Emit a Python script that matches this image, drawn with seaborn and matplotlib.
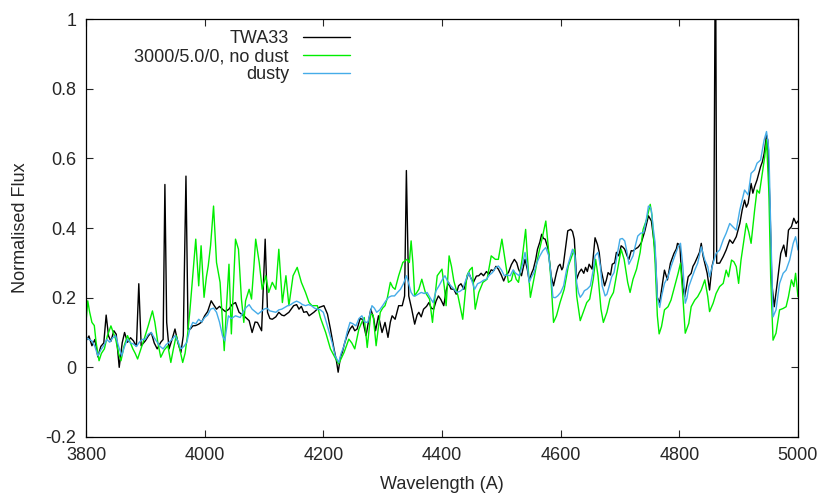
import matplotlib
matplotlib.use("Agg")
import matplotlib.pyplot as plt
import seaborn as sns
import pandas as pd

# observed spectrum (TWA33)
twa_wave = [3800, 3805, 3810, 3815, 3820, 3825, 3830, 3834, 3838, 3842, 3847, 3851, 3856, 3861, 3865,
            3870, 3875, 3880, 3885, 3889, 3893, 3897, 3900, 3905, 3910, 3915, 3920, 3926, 3930, 3933,
            3936, 3940, 3945, 3950, 3955, 3960, 3964, 3968.5, 3972, 3976, 3980, 3985, 3990, 3995, 4000,
            4005, 4011, 4015, 4020, 4025, 4030, 4035, 4041, 4046, 4052, 4058, 4066, 4075, 4080, 4085,
            4089, 4096, 4102, 4106, 4110, 4114, 4120, 4125, 4130, 4134, 4142, 4150, 4155, 4159, 4163,
            4167, 4172, 4176, 4184, 4193, 4201, 4207, 4212, 4218, 4222, 4225, 4229, 4232, 4236, 4240,
            4245, 4249, 4253, 4257, 4262, 4266, 4272, 4276, 4280, 4285, 4288, 4293, 4299, 4304, 4309,
            4313, 4316, 4321, 4327, 4333, 4337, 4340, 4344, 4349, 4354, 4358, 4361, 4365, 4369, 4374,
            4378, 4382, 4386, 4390, 4394, 4398, 4403, 4407, 4411, 4415, 4420, 4424, 4428, 4432, 4437,
            4441, 4445, 4449, 4453, 4458, 4462, 4466, 4470, 4475, 4479, 4483, 4487, 4491, 4495, 4500,
            4504, 4508, 4512, 4517, 4522, 4526, 4529, 4534, 4540, 4544, 4547, 4551, 4554, 4558, 4561,
            4565, 4568, 4571, 4574, 4579, 4584, 4588, 4593, 4596, 4599, 4602, 4604, 4608, 4612, 4617,
            4620, 4623, 4627, 4631, 4635, 4639, 4642, 4645, 4648, 4653, 4658, 4662, 4665, 4668, 4674,
            4677, 4680, 4684, 4687, 4691, 4694, 4698, 4702, 4705, 4708, 4712, 4715, 4719, 4722, 4726,
            4730, 4733, 4736, 4742, 4748, 4753, 4756, 4759, 4763, 4767, 4770, 4775, 4780, 4785, 4791,
            4795, 4797, 4801, 4803, 4806, 4809, 4812, 4815, 4820, 4823, 4826, 4831, 4834, 4837, 4840,
            4843, 4847, 4851, 4855, 4858, 4861, 4863, 4868, 4874, 4879, 4885, 4890, 4896, 4902,
            4906, 4910, 4913, 4916, 4921, 4924, 4927, 4931, 4937, 4940, 4943, 4947, 4949, 4953, 4956,
            4960, 4965, 4971, 4976, 4980, 4984, 4989, 4993, 4997, 5000]
twa_flux = [0.076, 0.090, 0.062, 0.080, 0.030, 0.060, 0.070, 0.150, 0.090, 0.075, 0.105, 0.095, 0.000, 0.070, 0.100,
            0.072, 0.085, 0.076, 0.060, 0.240, 0.062, 0.070, 0.076, 0.090, 0.100, 0.070, 0.053, 0.072, 0.080, 0.525,
            0.129, 0.053, 0.080, 0.110, 0.070, 0.043, 0.091, 0.549, 0.110, 0.110, 0.119, 0.120, 0.124, 0.130, 0.148,
            0.160, 0.191, 0.180, 0.167, 0.175, 0.167, 0.160, 0.167, 0.180, 0.186, 0.158, 0.148, 0.134, 0.100, 0.130,
            0.129, 0.105, 0.368, 0.158, 0.140, 0.138, 0.145, 0.158, 0.150, 0.148, 0.158, 0.177, 0.180, 0.167, 0.175,
            0.158, 0.160, 0.148, 0.158, 0.172, 0.177, 0.153, 0.110, 0.053, 0.020, -0.014, 0.030, 0.043, 0.070, 0.091,
            0.110, 0.119, 0.105, 0.110, 0.140, 0.138, 0.091, 0.130, 0.167, 0.140, 0.105, 0.148, 0.100, 0.129, 0.086,
            0.130, 0.148, 0.138, 0.177, 0.177, 0.205, 0.565, 0.205, 0.167, 0.124, 0.150, 0.158, 0.145, 0.167, 0.175,
            0.186, 0.170, 0.167, 0.190, 0.205, 0.195, 0.177, 0.220, 0.244, 0.225, 0.224, 0.210, 0.234, 0.240, 0.224,
            0.250, 0.272, 0.255, 0.244, 0.262, 0.263, 0.270, 0.263, 0.275, 0.267, 0.280, 0.277, 0.290, 0.282, 0.265,
            0.248, 0.265, 0.272, 0.295, 0.310, 0.300, 0.282, 0.263, 0.310, 0.280, 0.248, 0.270, 0.282, 0.310, 0.339,
            0.360, 0.382, 0.370, 0.368, 0.339, 0.263, 0.234, 0.272, 0.290, 0.296, 0.280, 0.287, 0.339, 0.392, 0.396,
            0.390, 0.368, 0.253, 0.272, 0.282, 0.270, 0.287, 0.275, 0.296, 0.282, 0.372, 0.353, 0.330, 0.282, 0.234,
            0.250, 0.272, 0.265, 0.296, 0.300, 0.330, 0.320, 0.349, 0.345, 0.339, 0.320, 0.310, 0.335, 0.334, 0.340,
            0.344, 0.350, 0.358, 0.392, 0.435, 0.420, 0.380, 0.339, 0.200, 0.186, 0.222, 0.279, 0.251, 0.299, 0.327,
            0.340, 0.356, 0.351, 0.289, 0.230, 0.203, 0.230, 0.260, 0.270, 0.290, 0.299, 0.318, 0.330, 0.356, 0.320,
            0.299, 0.270, 0.222, 0.289, 0.310, 1.300, 0.299, 0.299, 0.318, 0.337, 0.366, 0.356, 0.375, 0.413,
            0.452, 0.480, 0.460, 0.471, 0.528, 0.500, 0.519, 0.538, 0.576, 0.590, 0.614, 0.667, 0.653, 0.452, 0.241,
            0.174, 0.241, 0.327, 0.351, 0.318, 0.394, 0.404, 0.428, 0.413, 0.420]

# model 3000/5.0/0 without dust
nodust_wave = [3800, 3803, 3806, 3810, 3814, 3817, 3822, 3826, 3831, 3836, 3842, 3846, 3850, 3855, 3859,
               3864, 3870, 3875, 3879, 3883, 3887, 3892, 3898, 3905, 3912, 3916, 3921, 3926, 3932, 3938,
               3943, 3947, 3952, 3957, 3963, 3967, 3971, 3975, 3979, 3985, 3990, 3994, 3999, 4003, 4006,
               4010, 4015, 4020, 4026, 4030, 4033, 4037, 4041, 4045, 4049, 4052, 4057, 4062, 4066, 4069,
               4075, 4079, 4083, 4086, 4092, 4097, 4103, 4108, 4114, 4120, 4125, 4131, 4137, 4142, 4149,
               4156, 4163, 4170, 4176, 4181, 4190, 4195, 4204, 4212, 4221, 4226, 4235, 4243, 4248, 4253,
               4260, 4265, 4269, 4274, 4280, 4284, 4289, 4296, 4300, 4304, 4308, 4313, 4317, 4321, 4327,
               4334, 4341, 4345, 4348, 4351, 4354, 4361, 4366, 4372, 4379, 4384, 4388, 4392, 4400, 4404,
               4407, 4412, 4416, 4420, 4427, 4435, 4442, 4447, 4451, 4456, 4462, 4469, 4476, 4483, 4490,
               4495, 4501, 4507, 4512, 4517, 4521, 4525, 4529, 4535, 4541, 4545, 4549, 4556, 4562, 4569,
               4575, 4579, 4584, 4588, 4593, 4599, 4606, 4613, 4619, 4623, 4627, 4633, 4638, 4644, 4649,
               4655, 4659, 4663, 4668, 4672, 4678, 4683, 4689, 4694, 4702, 4707, 4713, 4717, 4722, 4728,
               4734, 4739, 4745, 4751, 4754, 4759, 4763, 4766, 4770, 4775, 4781, 4786, 4792, 4798, 4802,
               4806, 4810, 4816, 4820, 4826, 4831, 4837, 4843, 4848, 4851, 4857, 4862, 4868, 4874, 4879,
               4883, 4888, 4892, 4896, 4900, 4904, 4909, 4913, 4917, 4921, 4927, 4931, 4935, 4939, 4944,
               4947, 4951, 4954, 4958, 4963, 4969, 4975, 4980, 4984, 4989, 4993, 4996, 5000]
nodust_flux = [0.130, 0.191, 0.160, 0.129, 0.120, 0.072, 0.019, 0.040, 0.053, 0.090, 0.119, 0.100, 0.081, 0.040, 0.019,
               0.060, 0.091, 0.070, 0.053, 0.040, 0.024, 0.050, 0.081, 0.120, 0.162, 0.130, 0.072, 0.029, 0.050, 0.062,
               0.014, 0.050, 0.091, 0.060, 0.014, 0.040, 0.091, 0.160, 0.244, 0.368, 0.234, 0.349, 0.201, 0.260, 0.291,
               0.350, 0.463, 0.301, 0.244, 0.130, 0.048, 0.180, 0.296, 0.096, 0.250, 0.368, 0.339, 0.196, 0.129, 0.191,
               0.224, 0.196, 0.290, 0.368, 0.301, 0.224, 0.263, 0.215, 0.244, 0.224, 0.339, 0.186, 0.263, 0.177, 0.263,
               0.287, 0.244, 0.215, 0.186, 0.177, 0.177, 0.143, 0.100, 0.053, 0.024, 0.010, 0.043, 0.081, 0.070, 0.053,
               0.110, 0.130, 0.143, 0.057, 0.153, 0.150, 0.062, 0.158, 0.170, 0.177, 0.200, 0.244, 0.230, 0.224, 0.263,
               0.301, 0.310, 0.301, 0.363, 0.300, 0.205, 0.224, 0.253, 0.215, 0.196, 0.129, 0.200, 0.263, 0.282, 0.230,
               0.177, 0.320, 0.290, 0.248, 0.205, 0.138, 0.263, 0.280, 0.287, 0.167, 0.215, 0.244, 0.253, 0.320, 0.310,
               0.310, 0.368, 0.301, 0.244, 0.250, 0.277, 0.253, 0.244, 0.310, 0.396, 0.291, 0.201, 0.263, 0.320, 0.372,
               0.420, 0.349, 0.244, 0.129, 0.148, 0.186, 0.224, 0.291, 0.320, 0.339, 0.205, 0.134, 0.158, 0.186, 0.196,
               0.253, 0.310, 0.263, 0.167, 0.129, 0.158, 0.196, 0.215, 0.263, 0.339, 0.310, 0.244, 0.215, 0.253, 0.282,
               0.330, 0.396, 0.425, 0.468, 0.435, 0.310, 0.148, 0.096, 0.117, 0.165, 0.174, 0.193, 0.232, 0.270, 0.299,
               0.203, 0.098, 0.126, 0.174, 0.193, 0.203, 0.222, 0.251, 0.203, 0.160, 0.184, 0.212, 0.232, 0.241, 0.279,
               0.260, 0.308, 0.303, 0.289, 0.241, 0.308, 0.366, 0.413, 0.389, 0.356, 0.452, 0.509, 0.500, 0.547, 0.605,
               0.653, 0.500, 0.260, 0.078, 0.098, 0.165, 0.169, 0.174, 0.203, 0.251, 0.232, 0.270, 0.203]

# dusty model
dusty_wave = [3800, 3805, 3810, 3815, 3820, 3825, 3830, 3835, 3840, 3845, 3850, 3855, 3860, 3865, 3870,
              3875, 3880, 3885, 3890, 3895, 3900, 3905, 3910, 3915, 3920, 3925, 3930, 3935, 3940, 3945,
              3950, 3955, 3960, 3965, 3970, 3975, 3980, 3985, 3990, 3995, 4000, 4005, 4010, 4015, 4020,
              4025, 4030, 4034, 4040, 4045, 4052, 4060, 4065, 4070, 4075, 4080, 4085, 4090, 4095, 4100,
              4105, 4110, 4115, 4120, 4125, 4130, 4135, 4140, 4145, 4150, 4155, 4160, 4165, 4170, 4175,
              4180, 4185, 4190, 4195, 4200, 4205, 4210, 4215, 4220, 4226, 4230, 4235, 4240, 4245, 4250,
              4255, 4260, 4265, 4270, 4275, 4282, 4286, 4290, 4295, 4300, 4305, 4310, 4315, 4320, 4325,
              4330, 4335, 4340, 4344, 4348, 4352, 4355, 4360, 4365, 4370, 4375, 4380, 4385, 4390, 4395,
              4400, 4405, 4410, 4415, 4420, 4425, 4430, 4435, 4440, 4445, 4450, 4455, 4460, 4465, 4470,
              4475, 4480, 4485, 4490, 4495, 4500, 4505, 4510, 4515, 4520, 4523, 4530, 4535, 4540, 4544,
              4547, 4551, 4555, 4560, 4565, 4570, 4575, 4580, 4584, 4587, 4591, 4595, 4600, 4605, 4610,
              4615, 4620, 4624, 4627, 4630, 4633, 4637, 4640, 4645, 4650, 4655, 4658, 4663, 4667, 4670,
              4675, 4678, 4682, 4686, 4690, 4695, 4700, 4704, 4708, 4712, 4715, 4719, 4722, 4726, 4730,
              4735, 4740, 4744, 4748, 4751, 4753, 4756, 4759, 4763, 4767, 4770, 4775, 4781, 4786, 4792,
              4798, 4802, 4806, 4810, 4813, 4816, 4820, 4826, 4831, 4837, 4843, 4848, 4851, 4857, 4862,
              4868, 4874, 4879, 4885, 4890, 4896, 4902, 4906, 4910, 4916, 4921, 4927, 4931, 4937, 4943,
              4947, 4951, 4954, 4958, 4963, 4969, 4975, 4980, 4986, 4992, 4996, 5000]
dusty_flux = [0.086, 0.080, 0.076, 0.060, 0.033, 0.050, 0.062, 0.080, 0.072, 0.085, 0.091, 0.060, 0.033, 0.060, 0.081,
              0.070, 0.067, 0.060, 0.072, 0.080, 0.081, 0.095, 0.100, 0.085, 0.072, 0.060, 0.053, 0.065, 0.072, 0.080,
              0.091, 0.075, 0.053, 0.060, 0.072, 0.110, 0.129, 0.125, 0.138, 0.130, 0.143, 0.150, 0.167, 0.170, 0.158,
              0.130, 0.091, 0.076, 0.148, 0.140, 0.148, 0.143, 0.160, 0.172, 0.180, 0.167, 0.160, 0.153, 0.160, 0.167,
              0.170, 0.162, 0.160, 0.158, 0.165, 0.167, 0.172, 0.177, 0.180, 0.186, 0.190, 0.186, 0.180, 0.177, 0.180,
              0.177, 0.170, 0.167, 0.165, 0.158, 0.130, 0.100, 0.070, 0.033, 0.014, 0.040, 0.062, 0.100, 0.129, 0.125,
              0.119, 0.140, 0.148, 0.130, 0.129, 0.177, 0.170, 0.158, 0.165, 0.177, 0.190, 0.201, 0.205, 0.205, 0.215,
              0.224, 0.240, 0.263, 0.240, 0.215, 0.205, 0.205, 0.210, 0.215, 0.212, 0.215, 0.200, 0.186, 0.220, 0.234,
              0.250, 0.263, 0.245, 0.234, 0.225, 0.215, 0.218, 0.224, 0.250, 0.272, 0.250, 0.224, 0.240, 0.244, 0.250,
              0.253, 0.265, 0.272, 0.285, 0.291, 0.280, 0.263, 0.265, 0.263, 0.280, 0.272, 0.263, 0.290, 0.330, 0.290,
              0.244, 0.260, 0.272, 0.300, 0.320, 0.335, 0.344, 0.320, 0.260, 0.201, 0.200, 0.205, 0.215, 0.234, 0.280,
              0.310, 0.339, 0.320, 0.244, 0.215, 0.201, 0.210, 0.220, 0.225, 0.234, 0.280, 0.320, 0.330, 0.290, 0.234,
              0.205, 0.210, 0.234, 0.260, 0.272, 0.320, 0.368, 0.370, 0.363, 0.330, 0.296, 0.310, 0.320, 0.350, 0.377,
              0.385, 0.387, 0.420, 0.463, 0.460, 0.450, 0.400, 0.360, 0.201, 0.172, 0.203, 0.241, 0.260, 0.289, 0.318,
              0.346, 0.356, 0.289, 0.184, 0.200, 0.232, 0.251, 0.279, 0.299, 0.346, 0.308, 0.289, 0.260, 0.299, 0.327,
              0.337, 0.366, 0.385, 0.413, 0.404, 0.394, 0.452, 0.480, 0.509, 0.495, 0.557, 0.567, 0.586, 0.595, 0.653,
              0.677, 0.624, 0.404, 0.145, 0.165, 0.241, 0.270, 0.279, 0.308, 0.356, 0.375, 0.337]

labels = ["TWA33", "3000/5.0/0, no dust", "dusty"]
colors = ["#000000", "#00ee00", "#45ace8"]

frames = []
for lab, w, f in zip(labels, [twa_wave, nodust_wave, dusty_wave], [twa_flux, nodust_flux, dusty_flux]):
    frames.append(pd.DataFrame({"wavelength": w, "flux": f, "series": lab}))
df = pd.concat(frames, ignore_index=True)

sns.set_style("ticks")
plt.rcParams["font.family"] = ["Liberation Sans", "DejaVu Sans"]

fig = plt.figure(figsize=(8.3, 4.98), dpi=100)
ax = fig.add_axes([0.1036, 0.1225, 0.8578, 0.8393])

sns.lineplot(data=df, x="wavelength", y="flux", hue="series", hue_order=labels,
             palette=dict(zip(labels, colors)), estimator=None, linewidth=1.0, ax=ax)

ax.set_xlim(3800, 5000)
ax.set_ylim(-0.2, 1.0)
ax.set_xticks([3800, 4000, 4200, 4400, 4600, 4800, 5000])
ax.set_yticks([-0.2, 0, 0.2, 0.4, 0.6, 0.8, 1.0])
ax.set_yticklabels(["-0.2", "0", "0.2", "0.4", "0.6", "0.8", "1"])
ax.tick_params(direction="in", length=5, width=0.8, top=True, right=True, labelsize=13, pad=7)
for s in ax.spines.values():
    s.set_linewidth(0.9)
    s.set_color("black")
ax.set_xlabel("Wavelength (A)", fontsize=13, labelpad=9)
ax.set_ylabel("Normalised Flux", fontsize=13, labelpad=12)

handles, labs = ax.get_legend_handles_labels()
ax.legend(handles, labs, loc="upper right", bbox_to_anchor=(0.384, 0.995), frameon=False,
          markerfirst=False, fontsize=13, handlelength=2.6, handletextpad=0.8,
          labelspacing=0.05, borderpad=0)

fig.savefig("out.png", dpi=100)
